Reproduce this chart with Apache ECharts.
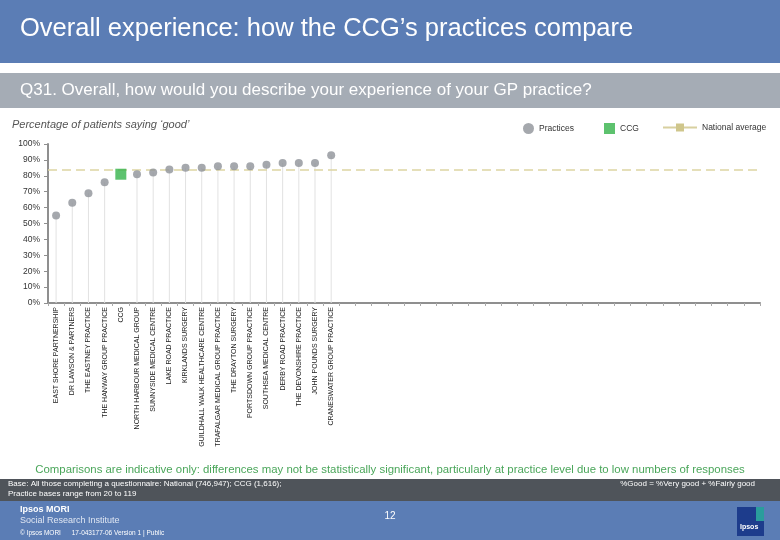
<!DOCTYPE html>
<html>
<head>
<meta charset="utf-8">
<script src="https://cdn.jsdelivr.net/npm/echarts@6/dist/echarts.min.js"></script>
<style>
html,body{margin:0;padding:0;background:#fff;}
#chart{width:780px;height:540px;}
</style>
</head>
<body>
<div id="chart"></div>
<script>
// ---- data ----
const categories = [
  'EAST SHORE PARTNERSHIP','DR LAWSON & PARTNERS','THE EASTNEY PRACTICE','THE HANWAY GROUP PRACTICE',
  'CCG','NORTH HARBOUR MEDICAL GROUP','SUNNYSIDE MEDICAL CENTRE','LAKE ROAD PRACTICE',
  'KIRKLANDS SURGERY','GUILDHALL WALK HEALTHCARE CENTRE','TRAFALGAR MEDICAL GROUP PRACTICE',
  'THE DRAYTON SURGERY','PORTSDOWN GROUP PRACTICE','SOUTHSEA MEDICAL CENTRE','DERBY ROAD PRACTICE',
  'THE DEVONSHIRE PRACTICE','JOHN POUNDS SURGERY','CRANESWATER GROUP PRACTICE'
];
const emptySlots = Array(26).fill('');
const practiceValues = [55, 63, 69, 76, null, 81, 82, 84, 85, 85, 86, 86, 86, 87, 88, 88, 88, 93];
const ccgValues = [null, null, null, null, 81, null, null, null, null, null, null, null, null, null, null, null, null, null];
const nationalAverage = 84;
const yTicks = [0, 10, 20, 30, 40, 50, 60, 70, 80, 90, 100];

const allCats = categories.concat(emptySlots);
const FONT = '"Liberation Sans", Arial, sans-serif';
const W = 780;

const chart = echarts.init(document.getElementById('chart'), null, {renderer: 'canvas'});

const legendText = {fontSize: 8.5, color: '#333', fontFamily: FONT};

chart.setOption({
  backgroundColor: '#ffffff',
  animation: false,
  textStyle: {fontFamily: FONT},
  grid: {left: 48, right: 20, top: 144, bottom: 237, containLabel: false},
  legend: [
    {data: ['Practices'], left: 518, top: 118, itemWidth: 11, itemHeight: 11, textStyle: legendText, icon: 'circle'},
    {data: ['CCG'], left: 599, top: 118, itemWidth: 11, itemHeight: 11, textStyle: legendText, icon: 'rect'},
    {data: ['National average'], left: 657, top: 118, itemWidth: 34, itemHeight: 10, textStyle: legendText}
  ],
  xAxis: {
    type: 'category',
    data: allCats,
    boundaryGap: true,
    axisLine: {lineStyle: {color: '#8f8f8f', width: 2}},
    axisTick: {show: true, length: 3, lineStyle: {color: '#aaa'}, interval: 0},
    axisLabel: {
      interval: 0, rotate: 90, fontSize: 7, color: '#222', fontFamily: FONT, margin: 4
    },
    splitLine: {show: false}
  },
  yAxis: {
    type: 'value',
    min: yTicks[0],
    max: yTicks[yTicks.length - 1],
    interval: 10,
    axisLine: {show: true, lineStyle: {color: '#8f8f8f', width: 2}},
    axisTick: {show: true, length: 4, lineStyle: {color: '#8f8f8f'}},
    axisLabel: {formatter: '{value}%', fontSize: 8.5, color: '#333', margin: 8, fontFamily: FONT},
    splitLine: {show: false}
  },
  series: [
    {
      name: 'drop',
      type: 'bar',
      data: practiceValues,
      barWidth: 1,
      itemStyle: {color: '#e2e2e2'},
      silent: true,
      z: 1
    },
    {
      name: 'Practices',
      type: 'scatter',
      data: practiceValues,
      symbol: 'circle',
      symbolSize: 8,
      itemStyle: {color: '#8e9298'},
      z: 5
    },
    {
      name: 'CCG',
      type: 'scatter',
      data: ccgValues,
      symbol: 'rect',
      symbolSize: 11,
      itemStyle: {color: '#34b34a'},
      z: 6
    },
    {
      name: 'National average',
      type: 'line',
      data: [],
      symbol: 'rect',
      symbolSize: 4,
      itemStyle: {color: '#cfc68c'},
      lineStyle: {color: '#d8d0a0', width: 1.5},
      markLine: {
        silent: true,
        symbol: 'none',
        label: {show: false},
        lineStyle: {color: '#ddd5a3', width: 1.5, type: [9, 5]},
        data: [{yAxis: nationalAverage}]
      },
      z: 4
    }
  ],
  graphic: [
    // header band
    {type: 'rect', left: 0, top: 0, shape: {width: W, height: 63}, style: {fill: '#5b7db5'}, z: -1},
    {type: 'text', left: 20, top: 16, style: {text: 'Overall experience: how the CCG\u2019s practices compare', fill: '#fff', font: '25.5px ' + FONT}},
    // question band
    {type: 'rect', left: 0, top: 73, shape: {width: W, height: 35}, style: {fill: '#a5acb5'}, z: -1},
    {type: 'text', left: 20, top: 82, style: {text: 'Q31. Overall, how would you describe your experience of your GP practice?', fill: '#fff', font: '17px ' + FONT}},
    // subtitle
    {type: 'text', left: 12, top: 119, style: {text: 'Percentage of patients saying \u2018good\u2019', fill: '#555', font: 'italic 11px ' + FONT}},
    // comparisons note
    {type: 'text', left: 'center', top: 464, style: {text: 'Comparisons are indicative only: differences may not be statistically significant, particularly at practice level due to low numbers of responses', fill: '#4aa65a', font: '11.4px ' + FONT}},
    // dark band
    {type: 'rect', left: 0, top: 479, shape: {width: W, height: 22}, style: {fill: '#4f545a'}, z: -1},
    {type: 'text', left: 8, top: 480, style: {text: 'Base: All those completing a questionnaire: National (746,947); CCG (1,616);', fill: '#fff', font: '8px ' + FONT}},
    {type: 'text', left: 8, top: 490, style: {text: 'Practice bases range from 20 to 119', fill: '#fff', font: '8px ' + FONT}},
    {type: 'text', right: 25, top: 480, style: {text: '%Good = %Very good + %Fairly good', fill: '#fff', font: '8px ' + FONT}},
    // bottom band
    {type: 'rect', left: 0, top: 501, shape: {width: W, height: 39}, style: {fill: '#5b7db5'}, z: -1},
    {type: 'text', left: 20, top: 505, style: {text: 'Ipsos MORI', fill: '#fff', font: 'bold 9px ' + FONT}},
    {type: 'text', left: 20, top: 516, style: {text: 'Social Research Institute', fill: '#dfe6f2', font: '9px ' + FONT}},
    {type: 'text', left: 20, top: 530, style: {text: '\u00A9 Ipsos MORI      17-043177-06 Version 1 | Public', fill: '#fff', font: '6.5px ' + FONT}},
    {type: 'text', left: 'center', top: 511, style: {text: '12', fill: '#fff', font: '10px ' + FONT}},
    // logo
    {type: 'rect', left: 737, top: 507, shape: {width: 27, height: 29}, style: {fill: '#1d3c8c'}},
    {type: 'rect', left: 756, top: 507, shape: {width: 8, height: 14}, style: {fill: '#2a9d9c'}},
    {type: 'text', left: 740, top: 524, style: {text: 'Ipsos', fill: '#fff', font: 'bold 7px ' + FONT}}
  ]
});
</script>
</body>
</html>
